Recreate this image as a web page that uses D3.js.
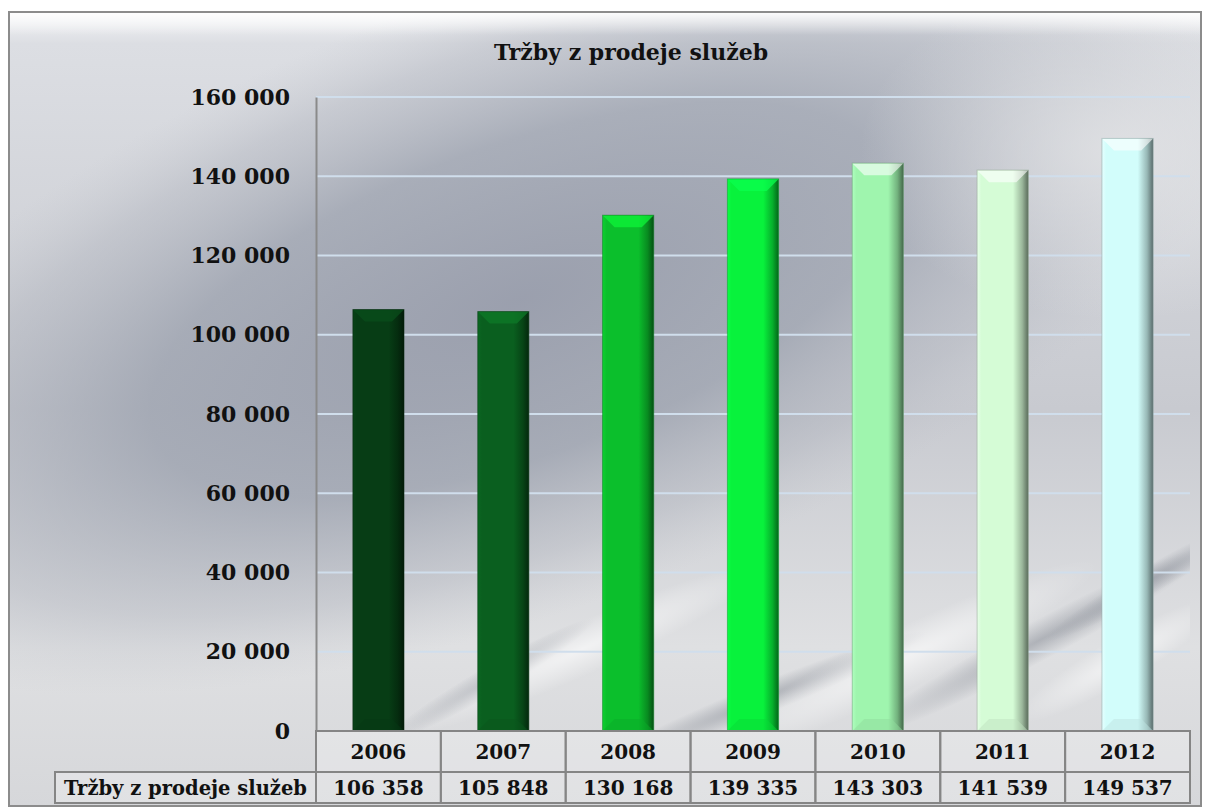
<!DOCTYPE html>
<html>
<head>
<meta charset="utf-8">
<script src="https://cdn.jsdelivr.net/npm/d3@7"></script>
<style>
  html, body { margin: 0; padding: 0; background: #ffffff; }
  svg { display: block; }
  text { font-family: "DejaVu Serif", serif; font-weight: bold; fill: #111; }
</style>
</head>
<body>
<div id="chart"></div>
<script>
// chart data
var years = ["2006", "2007", "2008", "2009", "2010", "2011", "2012"];
var sales = [106358, 105848, 130168, 139335, 143303, 141539, 149537];
var barColors = ["#073d15", "#0a5f1f", "#0bbf2c", "#08f23c", "#9ff5ae", "#d5fcd6", "#d2fdfb"];
var yTicks = [0, 20000, 40000, 60000, 80000, 100000, 120000, 140000, 160000];
var seriesName = "Tržby z prodeje služeb";
var title = "Tržby z prodeje služeb";

var W = 1208, H = 812;
var margin = {top: 97, right: 18, bottom: 81, left: 316};
var plotW = W - margin.left - margin.right;
var plotH = H - margin.top - margin.bottom;

var svg = d3.select("#chart").append("svg")
  .attr("width", W)
  .attr("height", H);

var defs = svg.append("defs");

// brushed metal: light base + broad dark zone + soft streaks
var baseGrad = defs.append("linearGradient")
  .attr("id", "baseGrad")
  .attr("gradientUnits", "userSpaceOnUse")
  .attr("x1", 0).attr("y1", 12).attr("x2", 0).attr("y2", 806);
[[0, "#f2f3f5"], [0.04, "#dcdee3"], [0.5, "#c8cad0"], [0.8, "#dfe0e2"], [1, "#d6d7da"]].forEach(function(s) {
  baseGrad.append("stop").attr("offset", s[0]).attr("stop-color", s[1]);
});

var darkZone = defs.append("radialGradient")
  .attr("id", "darkZone")
  .attr("gradientUnits", "userSpaceOnUse")
  .attr("cx", 0).attr("cy", 0).attr("r", 1)
  .attr("gradientTransform", "translate(520,300) rotate(-20) scale(780,310)");
[[0, "#959aa9", 0.9], [0.5, "#9aa0ad", 0.75], [0.8, "#aeb2bc", 0.4], [1, "#c0c3ca", 0]].forEach(function(s) {
  darkZone.append("stop").attr("offset", s[0]).attr("stop-color", s[1]).attr("stop-opacity", s[2]);
});

var brightCorner = defs.append("radialGradient")
  .attr("id", "brightCorner")
  .attr("gradientUnits", "userSpaceOnUse")
  .attr("cx", 0).attr("cy", 0).attr("r", 1)
  .attr("gradientTransform", "translate(1120,150) scale(260,170)");
brightCorner.append("stop").attr("offset", 0).attr("stop-color", "#e4e5e7").attr("stop-opacity", 0.8);
brightCorner.append("stop").attr("offset", 1).attr("stop-color", "#e4e5e7").attr("stop-opacity", 0);

var streak = defs.append("radialGradient").attr("id", "streak");
streak.append("stop").attr("offset", 0).attr("stop-color", "#80858f").attr("stop-opacity", 0.5);
streak.append("stop").attr("offset", 1).attr("stop-color", "#80858f").attr("stop-opacity", 0);

var lightStreak = defs.append("radialGradient").attr("id", "lightStreak");
lightStreak.append("stop").attr("offset", 0).attr("stop-color", "#ffffff").attr("stop-opacity", 0.6);
lightStreak.append("stop").attr("offset", 1).attr("stop-color", "#ffffff").attr("stop-opacity", 0);

var topShine = defs.append("linearGradient")
  .attr("id", "topShine")
  .attr("x1", "0").attr("y1", "0").attr("x2", "0").attr("y2", "1");
topShine.append("stop").attr("offset", 0).attr("stop-color", "#ffffff").attr("stop-opacity", 0.9);
topShine.append("stop").attr("offset", 1).attr("stop-color", "#ffffff").attr("stop-opacity", 0);

defs.append("clipPath").attr("id", "plotClip")
  .append("rect")
  .attr("x", margin.left).attr("y", margin.top)
  .attr("width", plotW).attr("height", plotH);

// frame
["url(#baseGrad)", "url(#darkZone)", "url(#brightCorner)"].forEach(function(f) {
  svg.append("rect")
    .attr("x", 9).attr("y", 12)
    .attr("width", W - 16).attr("height", H - 18)
    .attr("fill", f);
});
svg.append("rect")
  .attr("x", 10).attr("y", 13)
  .attr("width", W - 18).attr("height", 22)
  .attr("fill", "url(#topShine)");
svg.append("rect")
  .attr("x", 9).attr("y", 12)
  .attr("width", W - 16).attr("height", H - 18)
  .attr("fill", "none")
  .attr("stroke", "#8c8c8c")
  .attr("stroke-width", 2);

svg.append("text")
  .attr("x", 631)
  .attr("y", 60)
  .attr("text-anchor", "middle")
  .style("font-size", "22px")
  .text(title);

// plot area background
var bg = svg.append("g").attr("clip-path", "url(#plotClip)");
["url(#baseGrad)", "url(#darkZone)", "url(#brightCorner)"].forEach(function(f) {
  bg.append("rect")
    .attr("x", margin.left).attr("y", margin.top)
    .attr("width", plotW).attr("height", plotH)
    .attr("fill", f);
});
// soft diagonal streaks in the lower part
[[490, 680, 30, 120, 14], [760, 700, 22, 180, 16], [1040, 640, 28, 200, 20], [1150, 580, 30, 120, 14]].forEach(function(s) {
  bg.append("ellipse")
    .attr("rx", s[3]).attr("ry", s[4])
    .attr("transform", "translate(" + s[0] + "," + s[1] + ") rotate(-" + s[2] + ")")
    .attr("fill", "url(#streak)");
});
[[580, 650, 24, 200, 26], [900, 660, 26, 220, 30], [1120, 660, 30, 120, 22]].forEach(function(s) {
  bg.append("ellipse")
    .attr("rx", s[3]).attr("ry", s[4])
    .attr("transform", "translate(" + s[0] + "," + s[1] + ") rotate(-" + s[2] + ")")
    .attr("fill", "url(#lightStreak)");
});

var g = svg.append("g")
  .attr("transform", "translate(" + margin.left + "," + margin.top + ")");

var x = d3.scaleBand()
  .domain(years)
  .range([0, plotW])
  .paddingInner(0.59)
  .paddingOuter(0.295);

var xCol = d3.scaleBand()
  .domain(years)
  .range([0, plotW]);

var y = d3.scaleLinear()
  .domain([0, 160000])
  .range([plotH, 0]);

// gridlines
g.selectAll(".grid")
  .data(yTicks.slice(1))
  .enter()
  .append("line")
  .attr("class", "grid")
  .attr("x1", 0).attr("x2", plotW)
  .attr("y1", function(d) { return y(d); })
  .attr("y2", function(d) { return y(d); })
  .attr("stroke", "#d0deec")
  .attr("stroke-width", 2);

var fmt = function(v) {
  return d3.format(",")(v).replace(/,/g, " ");
};

// y axis
var yAxis = d3.axisLeft(y)
  .tickValues(yTicks)
  .tickSize(0)
  .tickPadding(26)
  .tickFormat(fmt);

var ya = g.append("g").call(yAxis);
ya.select(".domain").attr("stroke", "#8a8a8a").attr("stroke-width", 2);
ya.selectAll("text")
  .attr("fill", "#111")
  .style("font-family", "'DejaVu Serif', serif")
  .style("font-weight", "bold")
  .style("font-size", "22px");

// bars with a bevel
var bev = 12;
var bars = g.selectAll(".bar")
  .data(sales)
  .enter()
  .append("g")
  .attr("class", "bar");

barColors.forEach(function(c, i) {
  var gr = defs.append("linearGradient")
    .attr("id", "barGrad" + i)
    .attr("x1", "0").attr("x2", "1").attr("y1", "0").attr("y2", "0");
  var base = d3.color(c);
  gr.append("stop").attr("offset", 0).attr("stop-color", base.brighter(0.25));
  gr.append("stop").attr("offset", 0.08).attr("stop-color", c);
  gr.append("stop").attr("offset", 0.7).attr("stop-color", c);
  gr.append("stop").attr("offset", 0.88).attr("stop-color", base.darker(0.9));
  gr.append("stop").attr("offset", 1).attr("stop-color", base.darker(2.4));
});

bars.append("rect")
  .attr("x", function(d, i) { return x(years[i]); })
  .attr("y", function(d) { return y(d); })
  .attr("width", x.bandwidth())
  .attr("height", function(d) { return plotH - y(d); })
  .attr("fill", function(d, i) { return "url(#barGrad" + i + ")"; });

// top bevel highlight
bars.append("path")
  .attr("d", function(d, i) {
    var x0 = x(years[i]), x1 = x0 + x.bandwidth(), t = y(d);
    return "M" + x0 + "," + t + "L" + x1 + "," + t +
      "L" + (x1 - bev) + "," + (t + bev) + "L" + (x0 + bev) + "," + (t + bev) + "Z";
  })
  .attr("fill", function(d, i) { return i > 3 ? "#ffffff" : d3.color(barColors[i]).brighter(0.7); })
  .attr("opacity", function(d, i) { return i > 3 ? 0.6 : 0.75; });

// bottom bevel shade
bars.append("path")
  .attr("d", function(d, i) {
    var x0 = x(years[i]), x1 = x0 + x.bandwidth(), b = plotH;
    return "M" + x0 + "," + b + "L" + x1 + "," + b +
      "L" + (x1 - bev) + "," + (b - bev) + "L" + (x0 + bev) + "," + (b - bev) + "Z";
  })
  .attr("fill", function(d, i) { return d3.color(barColors[i]).darker(0.3); })
  .attr("opacity", 0.5);

bars.append("rect")
  .attr("x", function(d, i) { return x(years[i]); })
  .attr("y", function(d) { return y(d); })
  .attr("width", x.bandwidth())
  .attr("height", function(d) { return plotH - y(d); })
  .attr("fill", "none")
  .attr("stroke", function(d, i) { return d3.color(barColors[i]).darker(1.2); })
  .attr("stroke-opacity", 0.5)
  .attr("stroke-width", 1);

// data table below the plot
var rowH = [41, 31];
var table = g.append("g").attr("transform", "translate(0," + plotH + ")");

table.selectAll(".yearCell")
  .data(years)
  .enter()
  .append("rect")
  .attr("x", function(d) { return xCol(d); })
  .attr("y", 0)
  .attr("width", xCol.bandwidth())
  .attr("height", rowH[0])
  .attr("fill", "#ffffff").attr("fill-opacity", 0.25)
  .attr("stroke", "#858585").attr("stroke-width", 2);

table.selectAll(".valCell")
  .data(sales)
  .enter()
  .append("rect")
  .attr("x", function(d, i) { return xCol(years[i]); })
  .attr("y", rowH[0])
  .attr("width", xCol.bandwidth())
  .attr("height", rowH[1])
  .attr("fill", "#ffffff").attr("fill-opacity", 0.25)
  .attr("stroke", "#858585").attr("stroke-width", 2);

table.append("rect")
  .attr("x", 55 - margin.left)
  .attr("y", rowH[0])
  .attr("width", margin.left - 55)
  .attr("height", rowH[1])
  .attr("fill", "#ffffff").attr("fill-opacity", 0.25)
  .attr("stroke", "#858585").attr("stroke-width", 2);

table.selectAll(".yearText")
  .data(years)
  .enter()
  .append("text")
  .attr("x", function(d) { return xCol(d) + xCol.bandwidth() / 2; })
  .attr("y", rowH[0] / 2 + 7)
  .attr("text-anchor", "middle")
  .style("font-size", "20px")
  .text(function(d) { return d; });

table.selectAll(".valText")
  .data(sales)
  .enter()
  .append("text")
  .attr("x", function(d, i) { return xCol(years[i]) + xCol.bandwidth() / 2; })
  .attr("y", rowH[0] + rowH[1] / 2 + 7)
  .attr("text-anchor", "middle")
  .style("font-size", "20px")
  .text(function(d) { return fmt(d); });

table.append("text")
  .attr("x", (55 - margin.left) + (margin.left - 55) / 2)
  .attr("y", rowH[0] + rowH[1] / 2 + 7)
  .attr("text-anchor", "middle")
  .style("font-size", "19.5px")
  .text(seriesName);
</script>
</body>
</html>
